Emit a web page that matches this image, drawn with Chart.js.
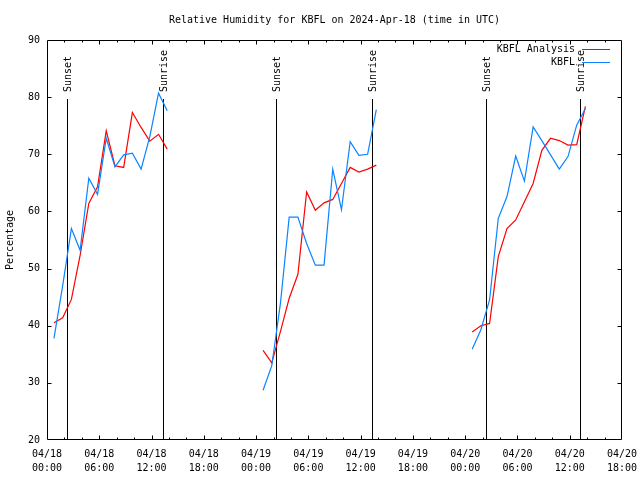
<!DOCTYPE html>
<html>
<head>
<meta charset="utf-8">
<title>Relative Humidity for KBFL</title>
<script src="https://cdn.jsdelivr.net/npm/chart.js@4/dist/chart.umd.min.js"></script>
<style>
  html, body { margin: 0; padding: 0; background: #fff; }
  #wrap { width: 640px; height: 480px; }
</style>
</head>
<body>
<div id="wrap"><canvas id="rh" width="640" height="480"></canvas></div>
<script>
// hours since 2024-04-18 00:00 UTC
const hours = [
    0.8, 1.8, 2.8, 3.8, 4.8, 5.8, 6.8, 7.8, 8.8, 9.8, 10.8, 11.8, 12.8, 13.8,
    24.8, 25.8, 26.8, 27.8, 28.8, 29.8, 30.8, 31.8, 32.8, 33.8, 34.8, 35.8, 36.8, 37.8,
    48.8, 49.8, 50.8, 51.8, 52.8, 53.8, 54.8, 55.8, 56.8, 57.8, 58.8, 59.8, 60.8, 61.8
];
const analysisRH = [
    40.5, 41.4, 44.6, 52.3, 61.4, 64.3, 74.1, 68.0, 67.7, 77.3, 74.7, 72.3, 73.5, 70.9,
    35.7, 33.5, 39.0, 44.8, 49.0, 63.4, 60.2, 61.5, 62.1, 64.9, 67.7, 66.9, 67.4, 68.1,
    38.9, 40.0, 40.4, 52.1, 57.0, 58.5, 61.7, 64.9, 70.7, 72.8, 72.4, 71.6, 71.7, 78.4
];
const observedRH = [
    37.8, 47.0, 57.0, 53.2, 65.8, 63.0, 72.8, 67.8, 69.9, 70.2, 67.4, 73.1, 80.7, 77.6,
    28.7, 33.0, 44.0, 59.0, 59.0, 54.4, 50.6, 50.6, 67.4, 60.3, 72.2, 69.8, 70.0, 77.8,
    35.9, 39.3, 44.5, 58.8, 62.6, 69.7, 65.3, 74.8, 72.4, 69.9, 67.4, 69.6, 75.1, 78.0
];
const sunTimes = [2.33, 13.28, 26.3, 37.27, 50.42, 61.22];
const sunLabels = ['Sunset', 'Sunrise', 'Sunset', 'Sunrise', 'Sunset', 'Sunrise'];
const xTickDays = ['04/18', '04/19', '04/20'];

const FONT = 'DejaVu Sans Mono';

const punten = vals => hours.map((h, i) => ({ x: h, y: vals[i] }));

function fmtTick(v) {
    const dag = xTickDays[Math.floor(v / 24)] || '04/21';
    const uur = String(v % 24).padStart(2, '0') + ':00';
    return [dag, uur];
}

const gnuplotFrame = {
    id: 'gnuplotFrame',
    beforeDatasetsDraw(chart) {
        const { ctx, chartArea: a, scales: { x } } = chart;
        ctx.save();
        ctx.strokeStyle = '#000';
        ctx.fillStyle = '#000';
        ctx.lineWidth = 1;
        ctx.font = `10px "${FONT}"`;
        sunTimes.forEach((t, i) => {
            const px = Math.round(x.getPixelForValue(t)) + 0.5;
            ctx.beginPath();
            ctx.moveTo(px, 99);
            ctx.lineTo(px, a.bottom);
            ctx.stroke();
            ctx.save();
            ctx.translate(px + 1, 92);
            ctx.rotate(-Math.PI / 2);
            ctx.textAlign = 'left';
            ctx.textBaseline = 'middle';
            ctx.fillText(sunLabels[i], 0, 0);
            ctx.restore();
        });
        ctx.restore();
    },
    afterDraw(chart) {
        const { ctx, chartArea: a, scales: { x, y } } = chart;
        ctx.save();
        ctx.strokeStyle = '#000';
        ctx.lineWidth = 1;
        const L = a.left + 0.5, R = a.right - 0.5, T = a.top + 0.5, B = a.bottom - 0.5;
        ctx.beginPath();
        ctx.rect(L, T, R - L, B - T);
        // x ticks, every 2 hours, longer every 6
        for (let h = 2; h < 66; h += 2) {
            const px = Math.round(x.getPixelForValue(h)) + 0.5;
            const len = h % 6 === 0 ? 4 : 2;
            ctx.moveTo(px, B); ctx.lineTo(px, B - len);
            ctx.moveTo(px, T); ctx.lineTo(px, T + len);
        }
        for (let v = 30; v < 90; v += 10) {
            const py = Math.round(y.getPixelForValue(v)) + 0.5;
            ctx.moveTo(L, py); ctx.lineTo(L + 4, py);
            ctx.moveTo(R, py); ctx.lineTo(R - 4, py);
        }
        ctx.stroke();

        // legend, gnuplot style: text then line sample
        ctx.font = `10px "${FONT}"`;
        ctx.textAlign = 'right';
        ctx.textBaseline = 'middle';
        chart.data.datasets.forEach((ds, i) => {
            const ly = 49.5 + i * 13;
            ctx.fillStyle = '#000';
            ctx.fillText(ds.label, 575, ly);
            ctx.strokeStyle = ds.borderColor;
            ctx.beginPath();
            ctx.moveTo(582, ly);
            ctx.lineTo(610, ly);
            ctx.stroke();
        });
        ctx.restore();
    }
};

new Chart(document.getElementById('rh'), {
    type: 'line',
    data: {
        datasets: [
            { label: 'KBFL Analysis', data: punten(analysisRH), borderColor: '#ff0000',
              borderWidth: 1.2, pointRadius: 0, tension: 0, spanGaps: 3, order: 2 },
            { label: 'KBFL', data: punten(observedRH), borderColor: '#0a84ff',
              borderWidth: 1.2, pointRadius: 0, tension: 0, spanGaps: 3, order: 1 }
        ]
    },
    options: {
        responsive: false,
        animation: false,
        devicePixelRatio: 1,
        layout: { padding: { left: 0, right: 18, top: 0, bottom: 0 } },
        plugins: {
            legend: { display: false },
            tooltip: { enabled: false },
            title: {
                display: true,
                fullSize: false,
                text: 'Relative Humidity for KBFL on 2024-Apr-18 (time in UTC)',
                color: '#000',
                font: { family: FONT, size: 10, weight: 'normal' },
                padding: { top: 14, bottom: 14 }
            }
        },
        scales: {
            x: {
                type: 'linear',
                min: 0, max: 66,
                grid: { display: false, drawTicks: false },
                border: { display: false },
                ticks: {
                    stepSize: 6, autoSkip: false, maxRotation: 0, padding: 7,
                    color: '#000',
                    font: { family: FONT, size: 10, lineHeight: 1.4 },
                    callback: v => fmtTick(v)
                },
                afterFit: s => { s.height = 40; s.paddingLeft = 0; s.paddingRight = 0; }
            },
            y: {
                min: 20, max: 90,
                grid: { display: false, drawTicks: false },
                border: { display: false },
                ticks: {
                    stepSize: 10, padding: 7, color: '#000',
                    font: { family: FONT, size: 10 }
                },
                title: {
                    display: true, text: 'Percentage', color: '#000',
                    font: { family: FONT, size: 10 },
                    padding: { top: 4, bottom: 0 }
                },
                afterFit: s => { s.width = 47; }
            }
        }
    },
    plugins: [gnuplotFrame]
});
</script>
</body>
</html>
